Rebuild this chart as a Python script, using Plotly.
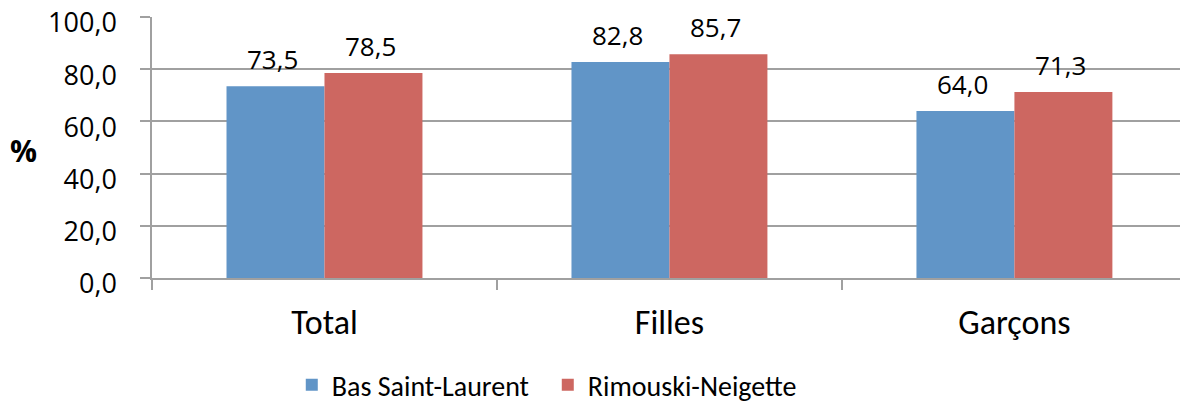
import plotly.graph_objects as go

categories = ["Total", "Filles", "Garçons"]
bas_saint_laurent = [73.5, 82.8, 64.0]
rimouski_neigette = [78.5, 85.7, 71.3]
series_names = ["Bas Saint-Laurent", "Rimouski-Neigette"]
y_ticks = [0, 20, 40, 60, 80, 100]

num_font = "Open Sans"
txt_font = "Liberation Sans Narrow, Carlito, Calibri, Arial Narrow, sans-serif"

fig = go.Figure()
for name, vals, color in [(series_names[0], bas_saint_laurent, "#6195C7"),
                          (series_names[1], rimouski_neigette, "#CD6761")]:
    fig.add_trace(go.Bar(
        x=categories, y=vals, name=name,
        marker=dict(color=color, line=dict(width=0)),
        offsetgroup=name,
    ))

# data labels placed above each bar
for idx, vals in enumerate([bas_saint_laurent, rimouski_neigette]):
    for i, v in enumerate(vals):
        fig.add_annotation(
            x=i + (-0.1425 if idx == 0 else 0.1425), y=v, xref="x", yref="y",
            text=f"{v:.1f}".replace(".", ","), showarrow=False,
            yanchor="bottom", yshift=7, xshift=-3,
            font=dict(family=num_font, size=26, color="#000000"))

fig.update_layout(
    width=1180, height=405,
    margin=dict(l=152, r=0, t=17, b=127, autoexpand=False),
    barmode="group", bargap=0.432, bargroupgap=0,
    separators=", ",
    plot_bgcolor="white", paper_bgcolor="white",
    showlegend=True,
    legend=dict(orientation="h", x=0.385, xanchor="center", y=-0.41, yanchor="middle",
                font=dict(family=txt_font, size=28, color="#000000"),
                itemwidth=30, entrywidth=211, traceorder="normal"),
    xaxis=dict(range=[-0.5, 2.48], showline=True, linecolor="#A0A0A0", linewidth=1.5,
               ticks="outside", tickson="boundaries", ticklen=10, tickcolor="#A0A0A0",
               tickwidth=1.5, ticklabelstandoff=13, automargin=False,
               tickfont=dict(family=txt_font, size=34, color="#000000")),
    yaxis=dict(range=[0, 100], tickvals=y_ticks, tickformat=".1f",
               showgrid=True, gridcolor="#A0A0A0", gridwidth=1.5,
               showline=True, linecolor="#A0A0A0", linewidth=1.5,
               ticks="outside", ticklen=10, tickcolor="#A0A0A0", tickwidth=1.5,
               zeroline=False, ticklabelstandoff=18, automargin=False,
               ticklabeloverflow="allow", ticklabelshift=6,
               tickfont=dict(family=num_font, size=27, color="#000000")),
)
fig.add_annotation(text="<b>%</b>", xref="paper", yref="paper",
                   x=(23 - 152) / 1028, y=(278 - 150) / 261,
                   showarrow=False, xanchor="center", yanchor="middle",
                   font=dict(family=num_font, size=30, color="#000000"))

fig.write_html("out.html", config={"displayModeBar": False},
               post_script="document.body.style.margin='0px';")
